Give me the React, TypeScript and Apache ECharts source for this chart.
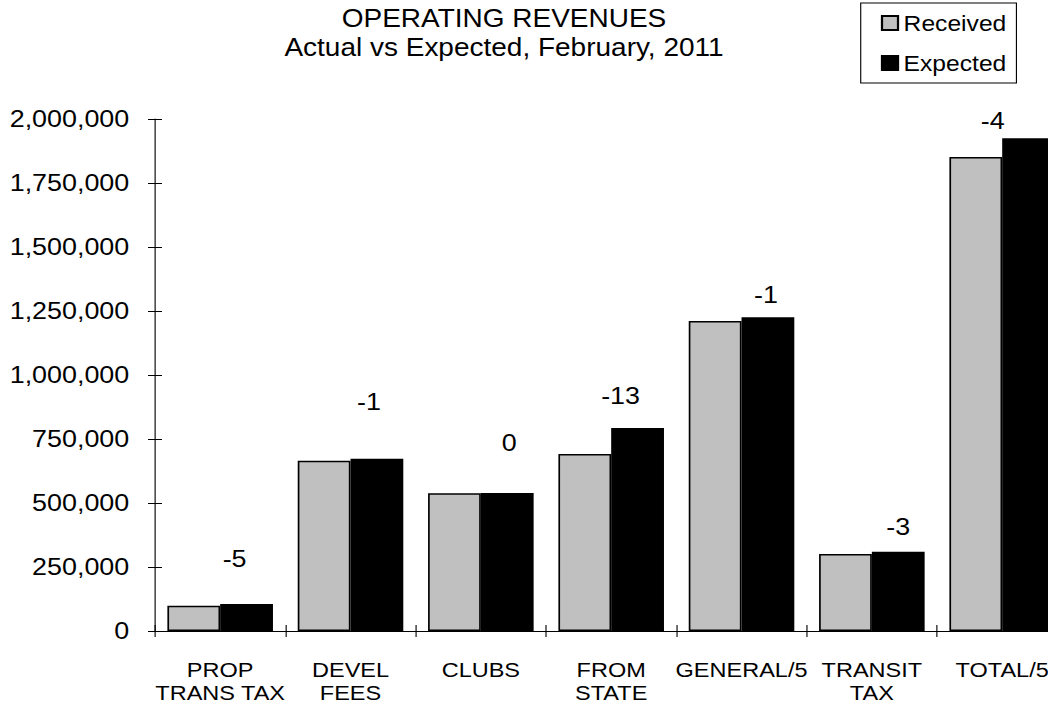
import React, { useEffect, useRef } from "react";
import * as echarts from "echarts";

const categories = [
  "PROP\nTRANS TAX",
  "DEVEL\nFEES",
  "CLUBS",
  "FROM\nSTATE",
  "GENERAL/5",
  "TRANSIT\nTAX",
  "TOTAL/5",
];
const received = [99000, 665000, 538000, 691000, 1211000, 301000, 1852000];
const expected = [105000, 673000, 539000, 793000, 1226000, 310000, 1925000];
const diffLabels = ["-5", "-1", "0", "-13", "-1", "-3", "-4"];
const seriesNames = ["Received", "Expected"];
const titleLines = ["OPERATING REVENUES", "Actual vs Expected, February, 2011"];
const yMin = 0;
const yMax = 2000000;
const yStep = 250000;

// layout (not data)
const SX = 1.12;
const W = 953;
const H = 704;
const FONT = "'Liberation Sans', Arial, sans-serif";
const labelOffsets: number[][] = [
  [-10.7, -34],
  [-7.1, -45],
  [1.8, -38],
  [-15.2, -20],
  [-1.8, -11],
  [0, -13],
  [-32.1, -6],
];

export default function App() {
  const ref = useRef<HTMLDivElement>(null);
  useEffect(() => {
    document.body.style.margin = "0";
    document.body.style.overflow = "hidden";
    document.documentElement.style.overflow = "hidden";
    const chart = echarts.init(ref.current as HTMLDivElement, null, { renderer: "svg" });
    const axisColor = "#000";
    chart.setOption({
      animation: false,
      backgroundColor: "#fff",
      textStyle: { fontFamily: FONT },
      graphic: [
        {
          type: "text",
          x: 450,
          y: 4,
          style: {
            text: titleLines.join("\n"),
            fontFamily: FONT,
            fontSize: 25,
            lineHeight: 29,
            fill: "#000",
            align: "center",
            verticalAlign: "top",
          },
        },
      ],
      legend: {
        orient: "vertical",
        left: 768.5,
        top: 3,
        padding: [9, 9, 9, 18],
        itemGap: 18,
        itemWidth: 14.3,
        itemHeight: 14,
        borderColor: "#000",
        borderWidth: 1,
        backgroundColor: "#fff",
        icon: "rect",
        data: seriesNames,
        textStyle: { fontFamily: FONT, fontSize: 22, lineHeight: 22, color: "#000" },
      },
      grid: { left: 138.4, right: 0, top: 119, bottom: 73, containLabel: false },
      xAxis: [
        {
          type: "category",
          data: categories,
          position: "bottom",
          axisLine: { show: true, lineStyle: { color: axisColor, width: 1 } },
          axisTick: { show: true, length: 6, lineStyle: { color: axisColor, width: 1 } },
          axisLabel: {
            interval: 0,
            color: "#000",
            fontFamily: FONT,
            fontSize: 21,
            lineHeight: 23,
            margin: 27,
          },
          splitLine: { show: false },
        },
        {
          type: "category",
          data: categories,
          position: "bottom",
          axisLine: { show: false },
          axisTick: { show: true, inside: true, length: 6, lineStyle: { color: axisColor, width: 1 } },
          axisLabel: { show: false },
          splitLine: { show: false },
        },
      ],
      yAxis: [
        {
          type: "value",
          position: "left",
          min: yMin,
          max: yMax,
          interval: yStep,
          axisLine: { show: true, lineStyle: { color: axisColor, width: 1 } },
          axisTick: { show: true, length: 6.25, lineStyle: { color: axisColor, width: 1 } },
          splitLine: { show: false },
          axisLabel: {
            color: "#000",
            fontFamily: FONT,
            fontSize: 24,
            margin: 23,
            formatter: (v: number) => v.toLocaleString("en-US"),
          },
        },
        {
          type: "value",
          position: "left",
          min: yMin,
          max: yMax,
          interval: yStep,
          axisLine: { show: false },
          axisTick: { show: true, inside: true, length: 6.25, lineStyle: { color: axisColor, width: 1 } },
          splitLine: { show: false },
          axisLabel: { show: false },
        },
      ],
      series: [
        {
          name: seriesNames[0],
          type: "bar",
          xAxisIndex: 0,
          yAxisIndex: 0,
          data: received,
          barGap: "0%",
          barCategoryGap: "19%",
          itemStyle: { color: "#C0C0C0", borderColor: "#000", borderWidth: 1.5 },
        },
        {
          name: seriesNames[1],
          type: "bar",
          xAxisIndex: 0,
          yAxisIndex: 0,
          data: expected.map((v, i) => ({ value: v, label: { offset: labelOffsets[i] } })),
          barGap: "0%",
          barCategoryGap: "19%",
          itemStyle: { color: "#000", borderColor: "#000", borderWidth: 1.5 },
          label: {
            show: true,
            position: "top",
            distance: 0,
            fontFamily: FONT,
            fontSize: 24,
            lineHeight: 24,
            color: "#000",
            formatter: (p: any) => diffLabels[p.dataIndex],
          },
        },
      ],
    });
    return () => chart.dispose();
  }, []);
  return (
    <div
      ref={ref}
      style={{
        position: "absolute",
        left: 0,
        top: 0,
        width: W,
        height: H,
        transform: `scaleX(${SX})`,
        transformOrigin: "0 0",
      }}
    />
  );
}
